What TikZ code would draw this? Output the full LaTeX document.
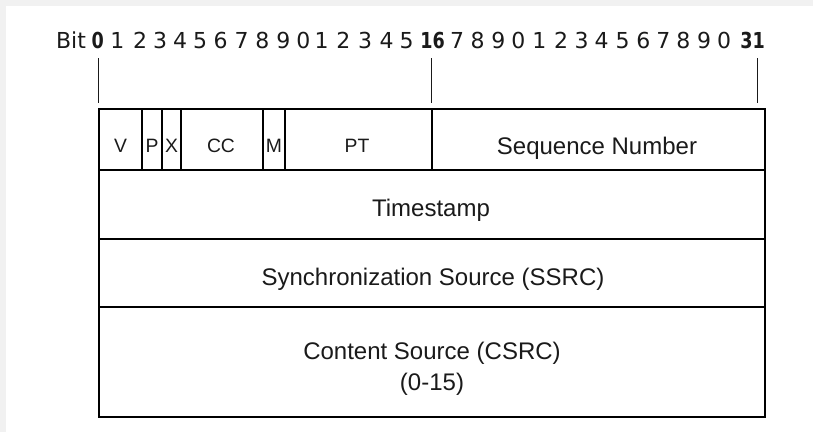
\documentclass[tikz,border=0pt]{standalone}
\usepackage{fontspec}
\setmainfont{Liberation Sans}
\newfontfamily\bitfont{DejaVu Sans}
\newfontfamily\bitboldfont{DejaVu Sans}[FakeStretch=0.8]
\definecolor{framegray}{HTML}{F1F1F1}
\definecolor{ink}{HTML}{1A1A1A}
\newcommand\fld[5]{%
  \node[box, minimum width={(#4-#2)*0.75pt}, minimum height={(#5-#3)*0.75pt}]
    (#1) at ({(#2+#4)/2},{(#3+#5)/2}) {};}
\begin{document}
\begin{tikzpicture}[x=0.75pt,y=-0.75pt,
  box/.style={draw=black,line width=2pt,inner sep=0pt,outer sep=0pt,rectangle},
  big/.style={font=\fontsize{18}{21}\selectfont,text=ink,anchor=base,inner sep=0pt},
  small/.style={font=\fontsize{14.5}{17}\selectfont,text=ink,anchor=base,inner sep=0pt},
  bitnum/.style={font=\bitfont\fontsize{16.5}{19}\selectfont,text=ink,anchor=base,inner sep=0pt},
  bitb/.style={bitnum,font=\bitboldfont\bfseries\fontsize{16.5}{19}\selectfont},
  tick/.style={line width=1.1pt,draw=ink}]
\useasboundingbox (0,0) rectangle (813,432);
\fill[white] (0,0) rectangle (813,432);
\fill[framegray] (0,0) rectangle (813,6);
\fill[framegray] (0,0) rectangle (6,432);

% bit ruler
\node[bitnum] (bitlbl) at (71,48) {Bit};
\foreach \x/\t/\s [count=\i] in {97.7/0/bitb,117.3/1/bitnum,140/2/bitnum,160/3/bitnum,
  180/4/bitnum,200/5/bitnum,220.7/6/bitnum,241.7/7/bitnum,262.3/8/bitnum,283.3/9/bitnum,
  303.3/0/bitnum,321.7/1/bitnum,343.3/2/bitnum,365/3/bitnum,386.7/4/bitnum,406.7/5/bitnum,
  432.5/16/bitb,457/7/bitnum,477.7/8/bitnum,498.3/9/bitnum,518.3/0/bitnum,539.3/1/bitnum,
  561/2/bitnum,581.7/3/bitnum,601.7/4/bitnum,622.7/5/bitnum,643.3/6/bitnum,663.3/7/bitnum,
  683.3/8/bitnum,704/9/bitnum,724/0/bitnum,752.7/31/bitb}
  \node[\s] (b\i) at (\x,48) {\t};

\coordinate (k0a) at (98.3,58);  \coordinate (k0b) at (98.3,103);
\coordinate (k16a) at (431.7,58); \coordinate (k16b) at (431.7,103);
\coordinate (k31a) at (757.7,58); \coordinate (k31b) at (757.7,103);
\draw[tick] (k0a) -- (k0b);
\draw[tick] (k16a) -- (k16b);
\draw[tick] (k31a) -- (k31b);

% header fields
\fld{fV}{99}{109}{142}{170}
\fld{fP}{142}{109}{162}{170}
\fld{fX}{162}{109}{181}{170}
\fld{fCC}{181}{109}{263}{170}
\fld{fM}{263}{109}{285}{170}
\fld{fPT}{285}{109}{432}{170}
\fld{fSeq}{432}{109}{765}{170}
\fld{fTS}{99}{170}{765}{239}
\fld{fSSRC}{99}{239}{765}{307}
\fld{fCSRC}{99}{307}{765}{417}

\node[small] (tV) at (120.5,152.3) {V};
\node[small] (tP) at (152,152.3) {P};
\node[small] (tX) at (171.5,152.3) {X};
\node[small] (tCC) at (221,152.3) {CC};
\node[small] (tM) at (274,152.3) {M};
\node[small] (tPT) at (357,152.3) {PT};
\node[big] (tSeq) at (597,154.3) {Sequence Number};
\node[big] (tTS) at (431,216.7) {Timestamp};
\node[big] (tSSRC) at (433,285) {Synchronization Source (SSRC)};
\node[big] (tCSRC) at (432,359) {Content Source (CSRC)};
\node[big] (tCSRCb) at (432,390) {(0-15)};
\end{tikzpicture}
\end{document}
